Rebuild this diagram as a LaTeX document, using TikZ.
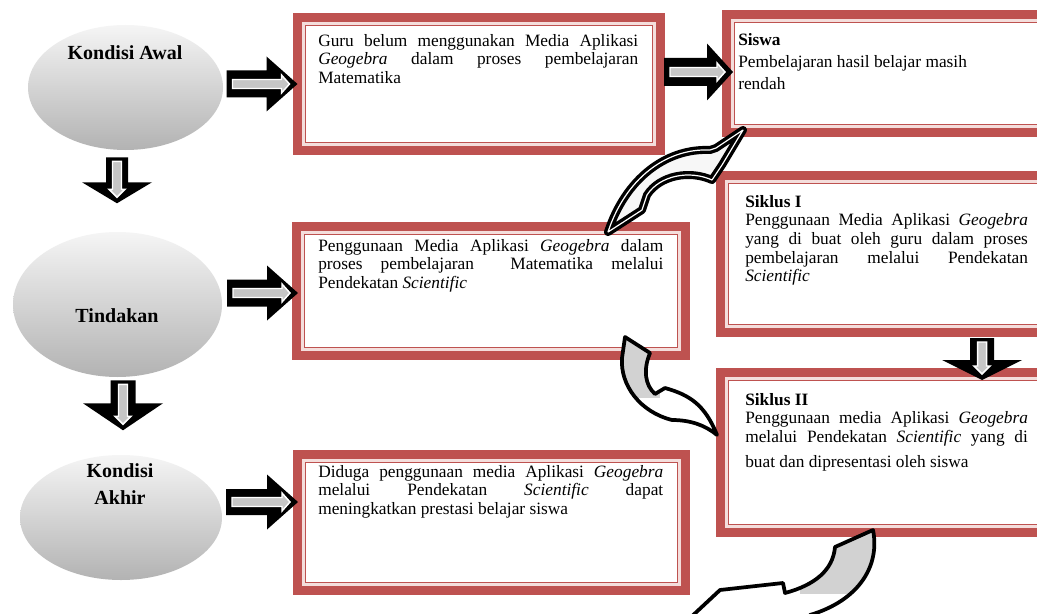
\documentclass[tikz,border=0pt]{standalone}
\usepackage{fontspec}
\setmainfont{Liberation Serif}
\usetikzlibrary{calc,shapes.geometric}
\definecolor{boxred}{RGB}{190,82,80}
\definecolor{boxpink}{RGB}{244,222,220}
\newcommand{\rblk}[5]{%
 \begin{scope}[shift={(#1)}]
  \fill[black] (0,0) -- (-#3,-#4) -- (-#3,-#5) -- (-#2,-#5) -- (-#2,#5) -- (-#3,#5) -- (-#3,#4) -- cycle;
  \draw[white,line width=1.1pt,fill=gray!45] (-8,0) -- (-16,-9) -- (-16,-4.5) -- ({-#2+6},-4.5) -- ({-#2+6},4.5) -- (-16,4.5) -- (-16,9) -- cycle;
 \end{scope}}
\newcommand{\dblk}[5]{%
 \begin{scope}[shift={(#1)}]
  \fill[black] (0,0) -- (-#4,-#3) -- (-#5,-#3) -- (-#5,-#2) -- (#5,-#2) -- (#5,-#3) -- (#4,-#3) -- cycle;
  \draw[white,line width=1.1pt,fill=gray!45] (0,-6) -- (-8,-14) -- (-4.5,-14) -- (-4.5,{-#2+4}) -- (4.5,{-#2+4}) -- (4.5,-14) -- (8,-14) -- cycle;
 \end{scope}}
\newcommand{\deco}[1]{%
 \draw[boxpink,line width=1.9pt] ($(#1.north west)+(5.75,5.75)$) rectangle ($(#1.south east)+(-5.75,-5.75)$);
 \draw[boxred,line width=1.1pt] ($(#1.north west)+(8,8)$) rectangle ($(#1.south east)+(-8,-8)$);}
\begin{document}
\begin{tikzpicture}[x=0.75pt,y=-0.75pt,
 box/.style={draw=boxred,line width=6.75pt,fill=white,inner sep=0pt,outer sep=0pt},
 ell/.style={ellipse,draw=none,inner sep=0pt,top color=gray!8,bottom color=gray!60},
 etxt/.style={font=\fontsize{15}{20}\selectfont\bfseries,align=center,inner sep=0pt},
 txt/.style={font=\fontsize{13}{14}\selectfont,align=justify,inner sep=0pt,anchor=north west},
 curv/.style={draw=black,line width=2.8pt,line join=round}]
\useasboundingbox (0,0) rectangle (1037,613);
\fill[white] (0,0) rectangle (1037,613);

% ellipses
\node[ell,minimum width=146.25pt,minimum height=93.75pt] (e1) at (125.5,87.5) {};
\node[ell,minimum width=156.75pt,minimum height=108.75pt] (e2) at (117.5,304.5) {};
\node[ell,minimum width=151.5pt,minimum height=93.75pt] (e3) at (121,517.5) {};
\node[etxt] (e1t) at (125,53) {Kondisi Awal};
\node[etxt] (e2t) at (117,316) {Tindakan};
\node[etxt] (e3t) at (120,484) {Kondisi\\Akhir};

% boxes
\node[box,minimum width=272.25pt,minimum height=99.75pt] (b1) at (479,84) {};
\node[box,minimum width=239.25pt,minimum height=88.5pt] (b2) at (886,73.5) {};
\node[box,minimum width=243.75pt,minimum height=117.75pt] (s1) at (883,254) {};
\node[box,minimum width=291.75pt,minimum height=96.75pt] (b3) at (491,291) {};
\node[box,minimum width=243.75pt,minimum height=120pt] (s2) at (883,452.5) {};
\node[box,minimum width=291pt,minimum height=102pt] (b4) at (491.5,522.5) {};
\deco{b1}\deco{b2}\deco{s1}\deco{b3}\deco{s2}\deco{b4}

% texts
\node[txt,text width=240pt] (b1t) at (318,34) {Guru belum menggunakan Media Aplikasi\linebreak \textit{Geogebra} dalam proses pembelajaran\linebreak Matematika};
\node[txt,align=left,font=\fontsize{13}{16.5}\selectfont] (b2t) at (738,33) {\textbf{Siswa}\\Pembelajaran hasil belajar masih\\rendah};
\node[txt,text width=212pt] (s1t) at (745,195) {\textbf{Siklus I}\\Penggunaan Media Aplikasi \textit{Geogebra}\linebreak yang di buat oleh guru dalam proses\linebreak pembelajaran melalui Pendekatan\linebreak \textit{Scientific}};
\node[txt,text width=258.75pt] (b3t) at (318,239) {Penggunaan Media Aplikasi \textit{Geogebra} dalam\linebreak proses pembelajaran\ \ Matematika melalui\linebreak Pendekatan \textit{Scientific}};
\node[txt,text width=212pt] (s2t) at (745,393) {\textbf{Siklus II}\\Penggunaan media Aplikasi \textit{Geogebra}\linebreak melalui Pendekatan \textit{Scientific} yang di\vadjust{\vskip5pt}\linebreak buat dan dipresentasi oleh siswa};
\node[txt,text width=258.75pt] (b4t) at (318,465) {Diduga penggunaan media Aplikasi \textit{Geogebra}\linebreak melalui Pendekatan \textit{Scientific} dapat\linebreak meningkatkan prestasi belajar siswa};

% straight block arrows
\rblk{b1.west}{71}{31}{27.5}{13.5}
\rblk{$(b2.west)+(6.5,-1.5)$}{69}{26}{28.5}{14}
\rblk{$(b3.west)+(1.5,2)$}{71}{31}{27.5}{13.5}
\rblk{$(b4.west)+(0.5,-20.5)$}{72}{31}{27.5}{13}
\dblk{$(e1.south)+(-8.5,53)$}{46}{21}{35}{11}
\dblk{$(e2.south)+(5.5,53)$}{50}{27}{40}{12.5}
\dblk{$(s2.north)+(99,7.5)$}{42}{20}{40}{12}

% curved arrow 1 (box3 -> siswa)
\path[curv,line width=6pt,fill=gray!6] (608,232) .. controls (625,180) and (665,148) .. (710,150) -- (716,148) -- (743,130) -- (722,165) -- (712,180) .. controls (690,170) and (660,175) .. (647,195) -- (642,210) -- cycle;
\draw[black,line width=0.4pt,double=white,double distance=0.9pt,line join=round] (608,232) .. controls (625,180) and (665,148) .. (710,150) -- (716,148) -- (743,130) -- (722,165) -- (712,180) .. controls (690,170) and (660,175) .. (647,195) -- (642,210) -- cycle;

% curved arrow 2 (box3 -> siklus II)
\begin{scope}
\clip (625,337) -- (650,353) .. controls (643,370) and (645,385) .. (655,394) -- (665,388) .. controls (690,395) and (705,405) .. (717,435) .. controls (705,425) and (690,420) .. (672,420) .. controls (640,412) and (620,385) .. (622,358) -- cycle;
\fill[white] (600,330) rectangle (730,440);
\fill[gray!35] (600,330) rectangle (660,398);
\end{scope}
\draw[curv] (625,337) -- (650,353) .. controls (643,370) and (645,385) .. (655,394) -- (665,388) .. controls (690,395) and (705,405) .. (717,435) .. controls (705,425) and (690,420) .. (672,420) .. controls (640,412) and (620,385) .. (622,358) -- cycle;

% curved arrow 3 (siklus II -> down)
\begin{scope}
\clip (835,547) -- (873,530) .. controls (880,565) and (860,600) .. (810,615) -- (805,625) -- (690,618) -- (720,590) -- (783,583) -- (785,593) .. controls (815,585) and (833,570) .. (835,547) -- cycle;
\fill[white] (680,520) rectangle (890,630);
\fill[gray!35] (800,520) rectangle (890,594);
\end{scope}
\draw[curv] (835,547) -- (873,530) .. controls (880,565) and (860,600) .. (810,615) -- (805,625) -- (690,618) -- (720,590) -- (783,583) -- (785,593) .. controls (815,585) and (833,570) .. (835,547) -- cycle;
\end{tikzpicture}
\end{document}
